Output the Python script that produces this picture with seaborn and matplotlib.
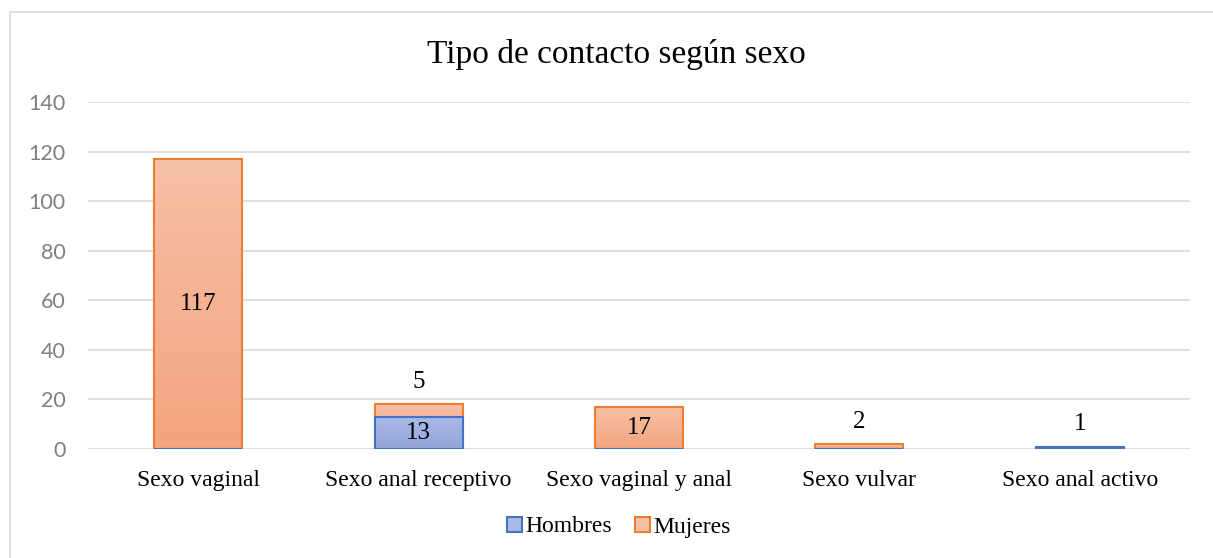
import numpy as np
import pandas as pd
import matplotlib
matplotlib.use("Agg")
import matplotlib.pyplot as plt
import seaborn as sns
from matplotlib.patches import Patch, Rectangle
from matplotlib.colors import LinearSegmentedColormap

categories = ["Sexo vaginal", "Sexo anal receptivo", "Sexo vaginal y anal", "Sexo vulvar", "Sexo anal activo"]
hombres = [0, 13, 0, 0, 1]
mujeres = [117, 5, 17, 2, 0]
yticks = [0, 20, 40, 60, 80, 100, 120, 140]
title = "Tipo de contacto según sexo"

sns.set_theme(style="white")
plt.rcParams["text.color"] = "black"
serif = ["Liberation Serif", "DejaVu Serif"]

df = pd.DataFrame({"cat": categories, "Hombres": hombres, "Mujeres": mujeres})
df["Total"] = df["Hombres"] + df["Mujeres"]

fig = plt.figure(figsize=(12.13, 5.58), dpi=100)
ax = fig.add_axes([88/1213, 1-449/558, (1190-88)/1213, (449-102)/558])

o_edge, b_edge = "#ED7D31", "#4472C4"
o_top, o_bot = "#F7C0A6", "#F4A47F"
b_top, b_bot = "#ABBAE5", "#91A5DB"

sns.barplot(data=df, x="cat", y="Total", color=o_bot, edgecolor=o_edge, linewidth=1.5,
            width=0.4, ax=ax, saturation=1, zorder=3)
n_orange = len(ax.patches)
sns.barplot(data=df, x="cat", y="Hombres", color=b_bot, edgecolor=b_edge, linewidth=1.5,
            width=0.4, ax=ax, saturation=1, zorder=4)

def grad(p, top, bot, z):
    x0, y0 = p.get_x(), p.get_y()
    w, h = p.get_width(), p.get_height()
    if h <= 0:
        return
    cmap = LinearSegmentedColormap.from_list("g", [bot, top])
    g = np.linspace(0, 1, 256).reshape(-1, 1)
    im = ax.imshow(g, cmap=cmap, aspect="auto", origin="lower",
                   extent=[x0, x0 + w, y0, y0 + h], zorder=z)
    im.set_clip_path(p)

for i, p in enumerate(list(ax.patches)):
    if i < n_orange:
        grad(p, o_top, o_bot, 3.1)
    else:
        grad(p, b_top, b_bot, 4.1)
for i, p in enumerate(ax.patches):
    p.set_zorder(3.2 if i < n_orange else 4.2)
    p.set_facecolor("none")
for p in list(ax.patches[n_orange:]):
    if p.get_height() > 0:
        r = Rectangle((p.get_x(), p.get_y()), p.get_width(), p.get_height(),
                      facecolor=b_bot, edgecolor="none", zorder=4.0)
        ax.add_patch(r)
        grad(r, b_top, b_bot, 4.1)

ax.set_xlim(-0.5, len(categories) - 0.5)
ax.set_ylim(0, 140)
ax.set_yticks(yticks)
ax.yaxis.grid(True, color="#D9D9D9", linewidth=1.2, zorder=0)
ax.set_axisbelow(True)
for s in ax.spines.values():
    s.set_visible(False)
ax.tick_params(axis="both", length=0)
ax.tick_params(axis="y", pad=16, labelsize=15.5, labelcolor="#7F7F7F")
ax.tick_params(axis="x", pad=15, labelsize=17, labelcolor="black")
for t in ax.get_yticklabels():
    t.set_family(["Lato", "DejaVu Sans"])
for t in ax.get_xticklabels():
    t.set_family(serif)
ax.set_xlabel("")
ax.set_ylabel("")

lbl = dict(ha="center", va="center", fontsize=18, family=serif, zorder=6, color="black")
for i in range(len(categories)):
    h, m = hombres[i], mujeres[i]
    if h >= 10:
        ax.text(i, h / 2, str(h), **lbl)
    elif h > 0:
        ax.text(i, h + m + 9, str(h), **lbl)
    if m >= 10:
        ax.text(i, h + m / 2, str(m), **lbl)
    elif m > 0:
        ax.text(i, h + m + 9, str(m), **lbl)

fig.text(616/1213, 1-54/558, title, ha="center", va="center", fontsize=24, family=serif, color="black")

handles = [Patch(facecolor=b_top, edgecolor=b_edge, linewidth=1.5, label="Hombres"),
           Patch(facecolor=o_top, edgecolor=o_edge, linewidth=1.5, label="Mujeres")]
fig.legend(handles=handles, loc="center", bbox_to_anchor=(619/1213, 1-527/558), ncol=2,
           frameon=False, prop={"family": serif, "size": 17}, handlelength=0.6,
           handleheight=0.6, handletextpad=0.15, columnspacing=1.0, labelcolor="black")

fig.add_artist(Rectangle((10/1213, -0.05), 1.2, 1 - 12/558 + 0.05, transform=fig.transFigure,
                         fill=False, edgecolor="#D9D9D9", linewidth=1.2))

fig.savefig("out.png", dpi=100)
